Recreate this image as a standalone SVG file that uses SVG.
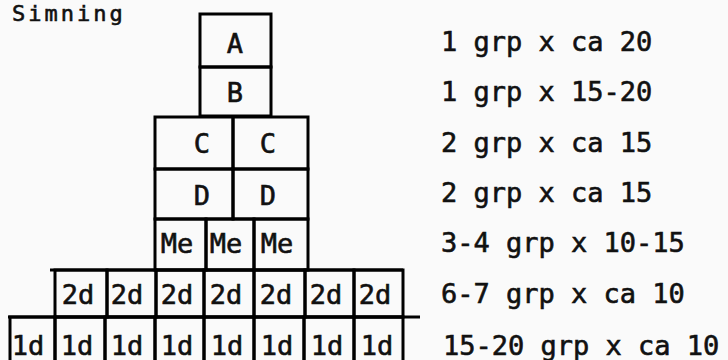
<svg xmlns="http://www.w3.org/2000/svg" width="728" height="360" viewBox="0 0 728 360">
<style>
.bg{fill:#fafafa}
.cell{fill:none;stroke:#000;stroke-width:3}
.ln{stroke:#000;stroke-width:3;fill:none}
text{font-family:"DejaVu Sans Mono","Liberation Mono",monospace;font-size:27px;fill:#111;stroke:#111;stroke-width:0.6}
.c{text-anchor:middle}
.t{font-size:22px;letter-spacing:3px}
</style>
<rect class="bg" x="0" y="0" width="728" height="360"/>
<text class="t" x="12" y="21">Simning</text>
<g id="edges">
<line class="ln" x1="50" y1="270" x2="403" y2="270"/>
<line class="ln" x1="8" y1="317" x2="420" y2="317"/>
</g>
<g id="A"><rect class="cell" x="200" y="14" width="71" height="53"/><text class="c" x="235" y="53">A</text></g>
<g id="B"><rect class="cell" x="200" y="67" width="71" height="49"/><text class="c" x="235" y="102">B</text></g>
<g id="C1"><rect class="cell" x="155" y="117" width="78" height="52"/><text class="c" x="202" y="153">C</text></g>
<g id="C2"><rect class="cell" x="233" y="117" width="75" height="52"/><text class="c" x="268" y="153">C</text></g>
<g id="D1"><rect class="cell" x="155" y="169" width="78" height="50"/><text class="c" x="202" y="205">D</text></g>
<g id="D2"><rect class="cell" x="233" y="169" width="75" height="50"/><text class="c" x="268" y="205">D</text></g>
<g id="Me1"><rect class="cell" x="155" y="219" width="51" height="51"/><text class="c" x="177" y="253">Me</text></g>
<g id="Me2"><rect class="cell" x="206" y="219" width="48" height="51"/><text class="c" x="226" y="253">Me</text></g>
<g id="Me3"><rect class="cell" x="254" y="219" width="54" height="51"/><text class="c" x="277" y="253">Me</text></g>
<g id="d2-1"><rect class="cell" x="55" y="270" width="52" height="47"/><text class="c" x="78" y="304">2d</text></g>
<g id="d2-2"><rect class="cell" x="107" y="270" width="49" height="47"/><text class="c" x="127" y="304">2d</text></g>
<g id="d2-3"><rect class="cell" x="156" y="270" width="48" height="47"/><text class="c" x="177" y="304">2d</text></g>
<g id="d2-4"><rect class="cell" x="204" y="270" width="50" height="47"/><text class="c" x="226" y="304">2d</text></g>
<g id="d2-5"><rect class="cell" x="254" y="270" width="51" height="47"/><text class="c" x="276" y="304">2d</text></g>
<g id="d2-6"><rect class="cell" x="305" y="270" width="49" height="47"/><text class="c" x="326" y="304">2d</text></g>
<g id="d2-7"><rect class="cell" x="354" y="270" width="49" height="47"/><text class="c" x="375" y="304">2d</text></g>
<g id="d1-1"><rect class="cell" x="10" y="317" width="45" height="60"/><text class="c" x="28" y="355">1d</text></g>
<g id="d1-2"><rect class="cell" x="55" y="317" width="50" height="60"/><text class="c" x="77" y="355">1d</text></g>
<g id="d1-3"><rect class="cell" x="105" y="317" width="50" height="60"/><text class="c" x="127" y="355">1d</text></g>
<g id="d1-4"><rect class="cell" x="155" y="317" width="49" height="60"/><text class="c" x="177" y="355">1d</text></g>
<g id="d1-5"><rect class="cell" x="204" y="317" width="50" height="60"/><text class="c" x="227" y="355">1d</text></g>
<g id="d1-6"><rect class="cell" x="254" y="317" width="50" height="60"/><text class="c" x="277" y="355">1d</text></g>
<g id="d1-7"><rect class="cell" x="304" y="317" width="50" height="60"/><text class="c" x="327" y="355">1d</text></g>
<g id="d1-8"><rect class="cell" x="354" y="317" width="49" height="60"/><text class="c" x="377" y="355">1d</text></g>
<g id="labels">
<text x="441" y="51">1 grp x ca 20</text>
<text x="441" y="101">1 grp x 15-20</text>
<text x="441" y="152">2 grp x ca 15</text>
<text x="441" y="202">2 grp x ca 15</text>
<text x="441" y="252">3-4 grp x 10-15</text>
<text x="441" y="303">6-7 grp x ca 10</text>
<text x="443" y="355">15-20 grp x ca 10</text>
</g>
</svg>
